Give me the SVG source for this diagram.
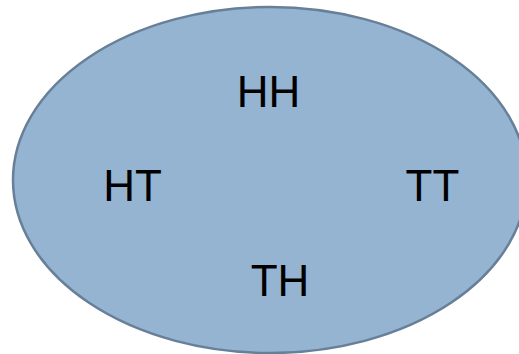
<svg xmlns="http://www.w3.org/2000/svg" width="519" height="354" viewBox="0 0 519 354">
<style>
.lbl{font-family:"Liberation Sans",Arial,sans-serif;font-size:44px;fill:#000;text-anchor:middle}
.set{fill:#94b4d2;stroke:#687f98;stroke-width:2.5}
</style>
<rect width="519" height="354" fill="#fff"/>
<g id="sample-space">
<ellipse class="set" cx="270" cy="180" rx="257" ry="173"/>
</g>
<g id="HH"><text class="lbl" x="268.5" y="107">HH</text></g>
<g id="HT"><text class="lbl" x="132.5" y="201">HT</text></g>
<g id="TT"><text class="lbl" x="432.5" y="201">TT</text></g>
<g id="TH"><text class="lbl" x="280" y="296">TH</text></g>
<g id="connectors"></g>
</svg>
